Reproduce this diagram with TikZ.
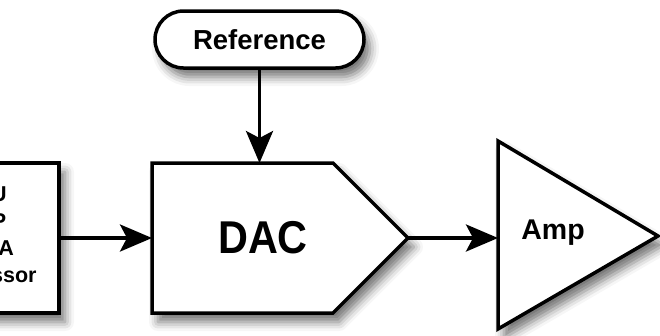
\documentclass[tikz,border=0pt]{standalone}
\usepackage{fontspec}
\setmainfont{Liberation Sans}
\usetikzlibrary{arrows.meta,shapes.misc,shadows.blur}

\tikzset{
  outline/.style={draw=black, line width=3.5pt, fill=white, line join=miter,
    blur shadow={shadow xshift=6pt, shadow yshift=-9pt, shadow blur radius=9pt, shadow opacity=55}},
  flow/.style={draw=black, line width=3.5pt, -{Stealth[length=32pt, width=27pt, inset=7pt]}},
  txt/.style={inner sep=0pt, align=center, text=black},
}

\begin{document}
\begin{tikzpicture}[x=1pt, y=-1pt]
\useasboundingbox (0,0) rectangle (660,335);

% processor block (partly off the left edge)
\node[outline, minimum width=150pt, minimum height=150pt] (cpu) at (-16,238) {};
\node[txt, font=\bfseries\fontsize{21.5}{27}\selectfont] (cputext) at (-16,235)
  {CPU\\DSP\\FPGA\\Processor};

% reference pill
\node[outline, rounded rectangle, txt, font=\bfseries\fontsize{27.5}{32}\selectfont,
      minimum width=209pt, minimum height=57pt] (ref) at (259.5,39.5) {Reference};

% DAC pentagon
\draw[outline] (152,163) -- (333,163) -- (408,238) -- (333,313) -- (152,313) -- cycle;
\coordinate (dacW) at (152,238);
\coordinate (dacN) at (259.5,163);
\coordinate (dacE) at (408,238);
\node[txt, font=\bfseries\fontsize{46}{54}\selectfont] (dac) at (263,238)
  {\scalebox{0.9}[1]{DAC}};

% amplifier triangle
\draw[outline] (498,141) -- (658,236) -- (498,329) -- cycle;
\coordinate (ampW) at (498,238);
\node[txt, font=\bfseries\fontsize{28.5}{34}\selectfont] (amp) at (553,233) {Amp};

% signal flow
\draw[flow] (cpu.east) -- (dacW);
\draw[flow] (ref.south) -- (dacN);
\draw[flow] (dacE) -- (ampW);
\end{tikzpicture}
\end{document}
